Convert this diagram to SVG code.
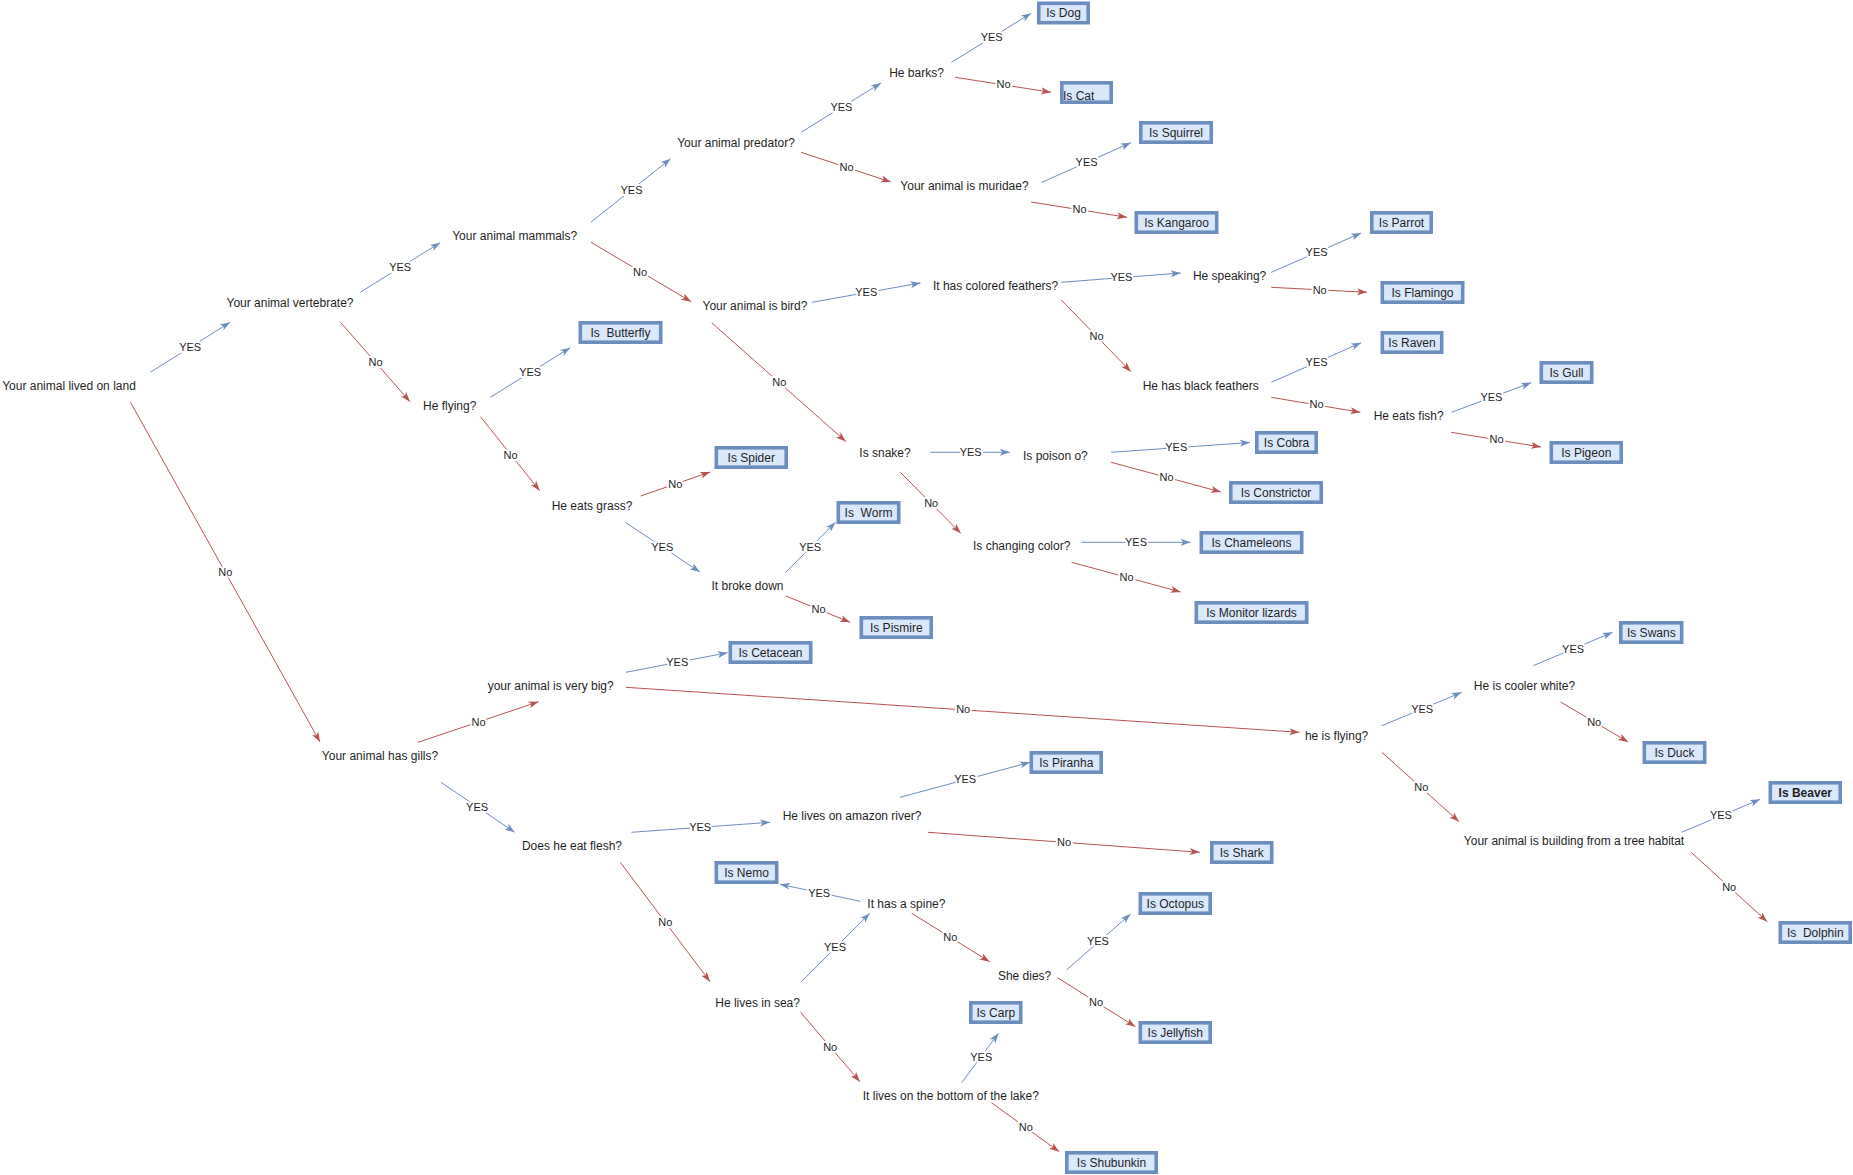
<svg xmlns="http://www.w3.org/2000/svg" width="1853" height="1175" viewBox="0 0 1853 1175">
<style>
.q{font-family:"Liberation Sans",Arial,Helvetica,sans-serif;font-size:12px;fill:#1f1f1f;text-anchor:middle}
.leaf rect{fill:#dae8fc;stroke:#6c8ebf;stroke-width:3.6}
.leaf text{font-family:"Liberation Sans",Arial,Helvetica,sans-serif;font-size:12px;fill:#1f1f1f;text-anchor:middle}
.y{fill:none;stroke:#6c8ebf;stroke-width:1;marker-end:url(#ab)}
.n{fill:none;stroke:#b85450;stroke-width:1;marker-end:url(#ar)}
.l{font-family:"Liberation Sans",Arial,Helvetica,sans-serif;font-size:11px;fill:#1f1f1f;text-anchor:middle;stroke:#fff;stroke-width:4;stroke-linejoin:round;paint-order:stroke}
</style>
<defs>
<marker id="ab" viewBox="0 0 10 8" refX="10" refY="4" markerWidth="10" markerHeight="8" markerUnits="userSpaceOnUse" orient="auto"><path d="M0,0.5 L10,4 L0,7.5 L2.5,4 Z" fill="#6c8ebf"/></marker>
<marker id="ar" viewBox="0 0 10 8" refX="10" refY="4" markerWidth="10" markerHeight="8" markerUnits="userSpaceOnUse" orient="auto"><path d="M0,0.5 L10,4 L0,7.5 L2.5,4 Z" fill="#b85450"/></marker>
</defs>
<rect width="1853" height="1175" fill="#fff"/>
<g id="connectors">
<path class="y" d="M150.3,372.3 L230.1,322.3"/><text class="l" x="190.2" y="351">YES</text>
<path class="n" d="M130.5,402.3 L320,742"/><text class="l" x="225.4" y="576.3">No</text>
<path class="y" d="M360.2,292.3 L440.1,242.7"/><text class="l" x="400.2" y="271">YES</text>
<path class="n" d="M340.5,322.3 L410,401.7"/><text class="l" x="375.6" y="366.3">No</text>
<path class="y" d="M590.9,222.2 L670.6,158.7"/><text class="l" x="631.5" y="193.5">YES</text>
<path class="n" d="M591,242.3 L691.2,301.7"/><text class="l" x="640" y="276">No</text>
<path class="y" d="M801.1,132.3 L881,83"/><text class="l" x="841.4" y="111">YES</text>
<path class="n" d="M801.1,152.3 L890.9,182"/><text class="l" x="846.6" y="171.3">No</text>
<path class="y" d="M951.4,62.3 L1031.2,13.3"/><text class="l" x="991.7" y="41">YES</text>
<path class="n" d="M955.3,77.3 L1051,92.3"/><text class="l" x="1003.5" y="88.3">No</text>
<path class="y" d="M1041.9,182.3 L1130.9,142.7"/><text class="l" x="1086.6" y="166.3">YES</text>
<path class="n" d="M1031.2,202 L1126.9,217.3"/><text class="l" x="1079.5" y="213.3">No</text>
<path class="y" d="M811.8,302.3 L920.5,283"/><text class="l" x="866.3" y="296">YES</text>
<path class="n" d="M711.7,322.7 L845.8,441.5"/><text class="l" x="779.4" y="386.3">No</text>
<path class="y" d="M1061.3,282.3 L1180.7,273"/><text class="l" x="1121.4" y="281">YES</text>
<path class="n" d="M1061.3,300 L1130.9,371.7"/><text class="l" x="1096.5" y="340">No</text>
<path class="y" d="M1271.3,272.3 L1361.2,233"/><text class="l" x="1316.6" y="256">YES</text>
<path class="n" d="M1271.3,287.3 L1367,292.3"/><text class="l" x="1319.7" y="294">No</text>
<path class="y" d="M1271.3,382.3 L1361.2,342.7"/><text class="l" x="1316.6" y="366">YES</text>
<path class="n" d="M1271.3,397.3 L1360.4,412.3"/><text class="l" x="1316.6" y="408.3">No</text>
<path class="y" d="M1451.5,412.3 L1531.2,382.7"/><text class="l" x="1491.4" y="401">YES</text>
<path class="n" d="M1451.1,432.3 L1541,447"/><text class="l" x="1496.5" y="443.3">No</text>
<path class="y" d="M490.3,397.3 L570.2,347.7"/><text class="l" x="530.2" y="376">YES</text>
<path class="n" d="M480.4,416.7 L539.7,490.7"/><text class="l" x="510.5" y="459">No</text>
<path class="n" d="M640.6,496 L710.2,472"/><text class="l" x="675.4" y="488">No</text>
<path class="y" d="M625.9,522.7 L699.9,572"/><text class="l" x="662.3" y="551">YES</text>
<path class="y" d="M785.3,572.7 L835.5,522.3"/><text class="l" x="810.2" y="551">YES</text>
<path class="n" d="M786.1,596 L850.1,622.3"/><text class="l" x="818.5" y="613">No</text>
<path class="y" d="M930.4,452.3 L1009.9,452.3"/><text class="l" x="970.7" y="456.3">YES</text>
<path class="n" d="M900.3,472.3 L960.8,533.3"/><text class="l" x="931.2" y="507">No</text>
<path class="y" d="M1111.1,452.3 L1250,442.5"/><text class="l" x="1176.3" y="451">YES</text>
<path class="n" d="M1111.1,462.3 L1221,492"/><text class="l" x="1166.5" y="481">No</text>
<path class="y" d="M1081.4,542.3 L1190.6,542.3"/><text class="l" x="1136" y="546">YES</text>
<path class="n" d="M1071.6,562.3 L1180.7,592"/><text class="l" x="1126.5" y="581">No</text>
<path class="n" d="M418,742.3 L538.6,701.7"/><text class="l" x="478.5" y="726.3">No</text>
<path class="y" d="M440.9,782.3 L514.7,832.3"/><text class="l" x="477.1" y="810.7">YES</text>
<path class="y" d="M625.9,672.3 L727.6,652.7"/><text class="l" x="677.3" y="666">YES</text>
<path class="n" d="M625.9,687.3 L1299.4,732.3"/><text class="l" x="963.2" y="713">No</text>
<path class="y" d="M1381.9,725.7 L1461.7,692.3"/><text class="l" x="1422.2" y="713">YES</text>
<path class="n" d="M1381.9,752.3 L1459.1,821.7"/><text class="l" x="1421.4" y="791">No</text>
<path class="y" d="M1533.2,665.7 L1612.6,632.3"/><text class="l" x="1573.1" y="653">YES</text>
<path class="n" d="M1560.6,702 L1628.2,742"/><text class="l" x="1594.2" y="726.3">No</text>
<path class="y" d="M1681.6,832.3 L1760.2,799.3"/><text class="l" x="1720.9" y="819.3">YES</text>
<path class="n" d="M1691.2,852.3 L1767.3,921.7"/><text class="l" x="1729.2" y="891.3">No</text>
<path class="y" d="M631.4,832.3 L770.1,822.3"/><text class="l" x="700.2" y="831">YES</text>
<path class="n" d="M620.3,862.3 L710,981.7"/><text class="l" x="665.4" y="926.3">No</text>
<path class="y" d="M900,797.3 L1030,762.3"/><text class="l" x="965.2" y="783">YES</text>
<path class="n" d="M928,832.3 L1199.7,852.3"/><text class="l" x="1064" y="846.3">No</text>
<path class="y" d="M800.6,982.3 L869.8,913.3"/><text class="l" x="835" y="951">YES</text>
<path class="y" d="M860.3,901.3 L780,884.3"/><text class="l" x="819.2" y="897">YES</text>
<path class="n" d="M911.7,913.3 L989.6,961.7"/><text class="l" x="950.3" y="941.3">No</text>
<path class="y" d="M1066.4,970 L1130.6,914"/><text class="l" x="1097.9" y="945">YES</text>
<path class="n" d="M1057.5,977.7 L1135.4,1026.7"/><text class="l" x="1096.1" y="1006.3">No</text>
<path class="n" d="M800.6,1012.3 L859.9,1081.7"/><text class="l" x="830.2" y="1051">No</text>
<path class="y" d="M961.7,1082.7 L998.5,1033.3"/><text class="l" x="981.3" y="1061">YES</text>
<path class="n" d="M991.4,1102.7 L1059.2,1151.7"/><text class="l" x="1025.9" y="1131.3">No</text>
</g>
<g id="q1"><text class="q" x="69" y="389.5">Your animal lived on land</text></g>
<g id="q2"><text class="q" x="290" y="306.5">Your animal vertebrate?</text></g>
<g id="q3"><text class="q" x="514.7" y="239.5">Your animal mammals?</text></g>
<g id="q4"><text class="q" x="736" y="146.5">Your animal predator?</text></g>
<g id="q5"><text class="q" x="916.5" y="76.5">He barks?</text></g>
<g id="q6"><text class="q" x="964.5" y="190">Your animal is muridae?</text></g>
<g id="q7"><text class="q" x="755" y="309.5">Your animal is bird?</text></g>
<g id="q8"><text class="q" x="995.6" y="289.5">It has colored feathers?</text></g>
<g id="q9"><text class="q" x="1229.6" y="280">He speaking?</text></g>
<g id="q10"><text class="q" x="1200.7" y="390">He has black feathers</text></g>
<g id="q11"><text class="q" x="1408.7" y="419.5">He eats fish?</text></g>
<g id="q12"><text class="q" x="449.7" y="410">He flying?</text></g>
<g id="q13"><text class="q" x="592" y="510">He eats grass?</text></g>
<g id="q14"><text class="q" x="747.5" y="590">It broke down</text></g>
<g id="q15"><text class="q" x="885" y="456.5">Is snake?</text></g>
<g id="q16"><text class="q" x="1055.4" y="460">Is poison o?</text></g>
<g id="q17"><text class="q" x="1021.7" y="550">Is changing color?</text></g>
<g id="q18"><text class="q" x="550.7" y="690">your animal is very big?</text></g>
<g id="q19"><text class="q" x="380" y="760">Your animal has gills?</text></g>
<g id="q20"><text class="q" x="1336.6" y="740">he is flying?</text></g>
<g id="q21"><text class="q" x="1524.5" y="690">He is cooler white?</text></g>
<g id="q22"><text class="q" x="1574" y="845">Your animal is building from a tree habitat</text></g>
<g id="q23"><text class="q" x="572" y="850">Does he eat flesh?</text></g>
<g id="q24"><text class="q" x="852" y="819.5">He lives on amazon river?</text></g>
<g id="q25"><text class="q" x="906.4" y="908">It has a spine?</text></g>
<g id="q26"><text class="q" x="1024.6" y="980">She dies?</text></g>
<g id="q27"><text class="q" x="757.6" y="1006.5">He lives in sea?</text></g>
<g id="q28"><text class="q" x="950.8" y="1100">It lives on the bottom of the lake?</text></g>
<g id="dog" class="leaf"><rect x="1038.8" y="3.3" width="49.4" height="19.4"/><text x="1063.5" y="17.3">Is Dog</text></g>
<g id="cat" class="leaf"><rect x="1061.8" y="82.8" width="49.4" height="19.4"/><text x="1063" y="100" style="text-anchor:start">Is Cat</text></g>
<g id="squirrel" class="leaf"><rect x="1140.8" y="122.8" width="70.4" height="19.4"/><text x="1176" y="136.8">Is Squirrel</text></g>
<g id="kangaroo" class="leaf"><rect x="1136.3" y="212.8" width="80.4" height="19.4"/><text x="1176.5" y="226.8">Is Kangaroo</text></g>
<g id="parrot" class="leaf"><rect x="1371.8" y="212.8" width="59.4" height="19.4"/><text x="1401.5" y="226.8">Is Parrot</text></g>
<g id="flamingo" class="leaf"><rect x="1382.3" y="282.8" width="80.4" height="19.4"/><text x="1422.5" y="296.8">Is Flamingo</text></g>
<g id="raven" class="leaf"><rect x="1382.3" y="332.8" width="59.4" height="19.4"/><text x="1412" y="346.8">Is Raven</text></g>
<g id="gull" class="leaf"><rect x="1541.3" y="362.8" width="50.4" height="19.4"/><text x="1566.5" y="376.8">Is Gull</text></g>
<g id="pigeon" class="leaf"><rect x="1551.3" y="442.8" width="69.9" height="19.4"/><text x="1586.3" y="456.8">Is Pigeon</text></g>
<g id="cobra" class="leaf"><rect x="1256.8" y="432.8" width="59.4" height="19.4"/><text x="1286.5" y="446.8">Is Cobra</text></g>
<g id="constrictor" class="leaf"><rect x="1230.8" y="482.8" width="90.4" height="19.4"/><text x="1276" y="496.8">Is Constrictor</text></g>
<g id="chameleons" class="leaf"><rect x="1201.3" y="532.8" width="100.4" height="19.4"/><text x="1251.5" y="546.8">Is Chameleons</text></g>
<g id="monitor" class="leaf"><rect x="1196.3" y="602.8" width="110.4" height="19.4"/><text x="1251.5" y="616.8">Is Monitor lizards</text></g>
<g id="spider" class="leaf"><rect x="716.3" y="447.8" width="69.9" height="19.4"/><text x="751.3" y="461.8">Is Spider</text></g>
<g id="worm" class="leaf"><rect x="838.3" y="502.8" width="60.4" height="19.4"/><text x="868.5" y="516.8" xml:space="preserve">Is  Worm</text></g>
<g id="pismire" class="leaf"><rect x="861.3" y="617.8" width="69.9" height="19.4"/><text x="896.3" y="631.8">Is Pismire</text></g>
<g id="cetacean" class="leaf"><rect x="730.3" y="642.8" width="80.4" height="19.4"/><text x="770.5" y="656.8">Is Cetacean</text></g>
<g id="butterfly" class="leaf"><rect x="580.3" y="322.8" width="80.4" height="19.4"/><text x="620.5" y="336.8" xml:space="preserve">Is  Butterfly</text></g>
<g id="piranha" class="leaf"><rect x="1031.3" y="752.8" width="69.9" height="19.4"/><text x="1066.3" y="766.8">Is Piranha</text></g>
<g id="swans" class="leaf"><rect x="1620.8" y="622.8" width="60.9" height="19.4"/><text x="1651.3" y="636.8">Is Swans</text></g>
<g id="duck" class="leaf"><rect x="1644.3" y="742.8" width="60.4" height="19.4"/><text x="1674.5" y="756.8">Is Duck</text></g>
<g id="beaver" class="leaf"><rect x="1770.3" y="782.8" width="69.9" height="19.4"/><text x="1805.3" y="796.8" font-weight="bold">Is Beaver</text></g>
<g id="dolphin" class="leaf"><rect x="1780.3" y="922.8" width="69.9" height="19.4"/><text x="1815.3" y="936.8" xml:space="preserve">Is  Dolphin</text></g>
<g id="shark" class="leaf"><rect x="1211.8" y="842.8" width="59.9" height="19.4"/><text x="1241.8" y="856.8">Is Shark</text></g>
<g id="octopus" class="leaf"><rect x="1140.3" y="893.8" width="69.9" height="19.4"/><text x="1175.3" y="907.8">Is Octopus</text></g>
<g id="jellyfish" class="leaf"><rect x="1140.3" y="1022.8" width="69.9" height="19.4"/><text x="1175.3" y="1036.8">Is Jellyfish</text></g>
<g id="carp" class="leaf"><rect x="970.8" y="1002.8" width="49.9" height="19.4"/><text x="995.8" y="1016.8">Is Carp</text></g>
<g id="shubunkin" class="leaf"><rect x="1066.8" y="1152.8" width="89.4" height="19.4"/><text x="1111.5" y="1166.8">Is Shubunkin</text></g>
<g id="nemo" class="leaf"><rect x="716.3" y="862.8" width="60.4" height="19.4"/><text x="746.5" y="876.8">Is Nemo</text></g>
</svg>
